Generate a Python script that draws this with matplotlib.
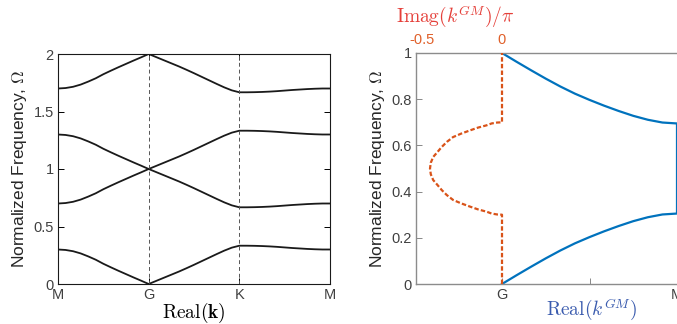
import matplotlib
matplotlib.use("Agg")
import matplotlib.pyplot as plt
import numpy as np

plt.rcParams['font.family'] = ['Liberation Sans', 'DejaVu Sans']
plt.rcParams['mathtext.fontset'] = 'cm'

# left panel: band structure along M-G-K-M
path_ticks = [0, 1, 2, 3]
path_labels = ['M', 'G', 'K', 'M']
kpath = np.linspace(0, 3, 37)  # 13 samples per segment
band1 = [0.300, 0.296, 0.285, 0.266, 0.240, 0.211, 0.176, 0.145, 0.115, 0.086, 0.057, 0.029, 0.000,
         0.027, 0.054, 0.081, 0.108, 0.137, 0.167, 0.198, 0.229, 0.260, 0.290, 0.316, 0.333,
         0.333, 0.332, 0.330, 0.327, 0.323, 0.318, 0.313, 0.309, 0.305, 0.302, 0.300, 0.300]
band2 = [0.700, 0.704, 0.715, 0.734, 0.760, 0.789, 0.824, 0.855, 0.885, 0.914, 0.943, 0.971, 1.000,
         0.973, 0.946, 0.919, 0.892, 0.863, 0.833, 0.802, 0.771, 0.740, 0.710, 0.684, 0.667,
         0.667, 0.668, 0.670, 0.673, 0.677, 0.682, 0.687, 0.691, 0.695, 0.698, 0.700, 0.700]
band3 = [1.300, 1.296, 1.285, 1.266, 1.240, 1.211, 1.176, 1.145, 1.115, 1.086, 1.057, 1.029, 1.000,
         1.027, 1.054, 1.081, 1.108, 1.137, 1.167, 1.198, 1.229, 1.260, 1.290, 1.316, 1.333,
         1.333, 1.332, 1.330, 1.327, 1.323, 1.318, 1.313, 1.309, 1.305, 1.302, 1.300, 1.300]
band4 = [1.700, 1.704, 1.715, 1.734, 1.760, 1.789, 1.824, 1.855, 1.885, 1.914, 1.943, 1.971, 2.000,
         1.973, 1.946, 1.919, 1.892, 1.863, 1.833, 1.802, 1.771, 1.740, 1.710, 1.684, 1.667,
         1.667, 1.668, 1.670, 1.673, 1.677, 1.682, 1.687, 1.691, 1.695, 1.698, 1.700, 1.700]

# right panel: real part along G-M and imaginary part inside the gap
k_gm = [0, 1/12, 2/12, 3/12, 4/12, 5/12, 6/12, 7/12, 8/12, 9/12, 10/12, 11/12, 1.0]
omega_upper = [1.000, 0.962, 0.925, 0.889, 0.855, 0.824, 0.797, 0.772, 0.749, 0.728, 0.711, 0.699, 0.695]
omega_lower = [0.000, 0.038, 0.075, 0.111, 0.145, 0.176, 0.203, 0.228, 0.251, 0.272, 0.289, 0.301, 0.305]
omega_im = [0, 0.300, 0.301, 0.305, 0.313, 0.323, 0.335, 0.349, 0.364, 0.385, 0.407, 0.430, 0.450, 0.475,
            0.500, 0.525, 0.550, 0.570, 0.593, 0.615, 0.636, 0.651, 0.665, 0.677, 0.687, 0.695, 0.699,
            0.700, 1.0]
imag_k = [0, 0, -0.030, -0.065, -0.096, -0.150, -0.200, -0.255, -0.306, -0.345, -0.377, -0.405, -0.430,
          -0.445, -0.450, -0.445, -0.430, -0.405, -0.377, -0.345, -0.306, -0.255, -0.200, -0.150,
          -0.096, -0.065, -0.030, 0, 0]

W, H = 677, 324
fig = plt.figure(figsize=(W / 100, H / 100), dpi=100)

tick_col = '#404040'
blue = '#0072BD'
orange = '#D95319'

# ---- left
ax1 = fig.add_axes([58 / W, 40 / H, (330 - 58) / W, (284 - 54) / H])
for b in (band1, band2, band3, band4):
    ax1.plot(kpath, b, color='#1a1a1a', lw=1.3)
for xv in (1, 2):
    ax1.axvline(xv, color='#555555', lw=0.7, ls=(0, (4, 3)))
ax1.set_xlim(0, 3)
ax1.set_ylim(0, 2)
ax1.set_xticks(path_ticks)
ax1.set_xticklabels(path_labels)
ax1.set_yticks([0, 0.5, 1, 1.5, 2])
ax1.set_yticklabels(['0', '0.5', '1', '1.5', '2'])
ax1.tick_params(direction='in', top=True, right=True, length=4, width=0.7,
                labelsize=10.5, labelcolor=tick_col, pad=3)
for s in ax1.spines.values():
    s.set_color('#1a1a1a')
    s.set_linewidth(0.8)
ax1.set_xlabel(r'$\mathrm{Real}(\mathbf{k})$', fontsize=14, labelpad=-1)
ax1.set_ylabel(r'Normalized Frequency, $\Omega$', fontsize=12.5, color='#262626', labelpad=3)

# ---- right
ax2 = fig.add_axes([416 / W, 40 / H, (677 - 416) / W, (284 - 53) / H])
ax2.plot(k_gm + k_gm[::-1], omega_lower + omega_upper[::-1], color=blue, lw=1.6)
ax2.set_xlim(-86 / 175, 1.0)
ax2.set_ylim(0, 1)
ax2.set_xticks([0, 0.5, 1])
ax2.set_xticklabels(['G', '', 'M'])
ax2.set_yticks([0, 0.2, 0.4, 0.6, 0.8, 1])
ax2.set_yticklabels(['0', '0.2', '0.4', '0.6', '0.8', '1'])
ax2.tick_params(direction='in', top=True, right=False, length=4, width=0.7,
                labelsize=10.5, labelcolor=tick_col, color='#888888', pad=3)
for s in ax2.spines.values():
    s.set_color('#8c8c8c')
    s.set_linewidth(1.0)
ax2.spines['right'].set_visible(False)
ax2.set_ylabel(r'Normalized Frequency, $\Omega$', fontsize=12.5, color='#262626', labelpad=3)
ax2.set_xlabel(r'$\mathrm{Real}(k^{GM})$', fontsize=14, color='#3A5BAE', labelpad=-1)
ax2.xaxis.set_label_coords((592 - 416) / (677 - 416), -0.055)

ax3 = ax2.twiny()
ax3.plot(imag_k, omega_im, color=orange, lw=1.6, ls=(0, (2, 1)))
ax3.set_xlim(-86 / 160, 175 / 160)
ax3.set_xticks([-0.5, 0])
ax3.set_xticklabels(['-0.5', '0'])
ax3.tick_params(direction='in', length=0, labelsize=10.5, labelcolor='#E0602A', pad=4)
for s in ax3.spines.values():
    s.set_visible(False)
ax3.set_xlabel(r'$\mathrm{Imag}(k^{GM})/\pi$', fontsize=14, color='#E5403A', labelpad=4)
ax3.xaxis.set_label_coords((455 - 416) / (677 - 416), 1.13)

fig.savefig('out.png', dpi=100)
